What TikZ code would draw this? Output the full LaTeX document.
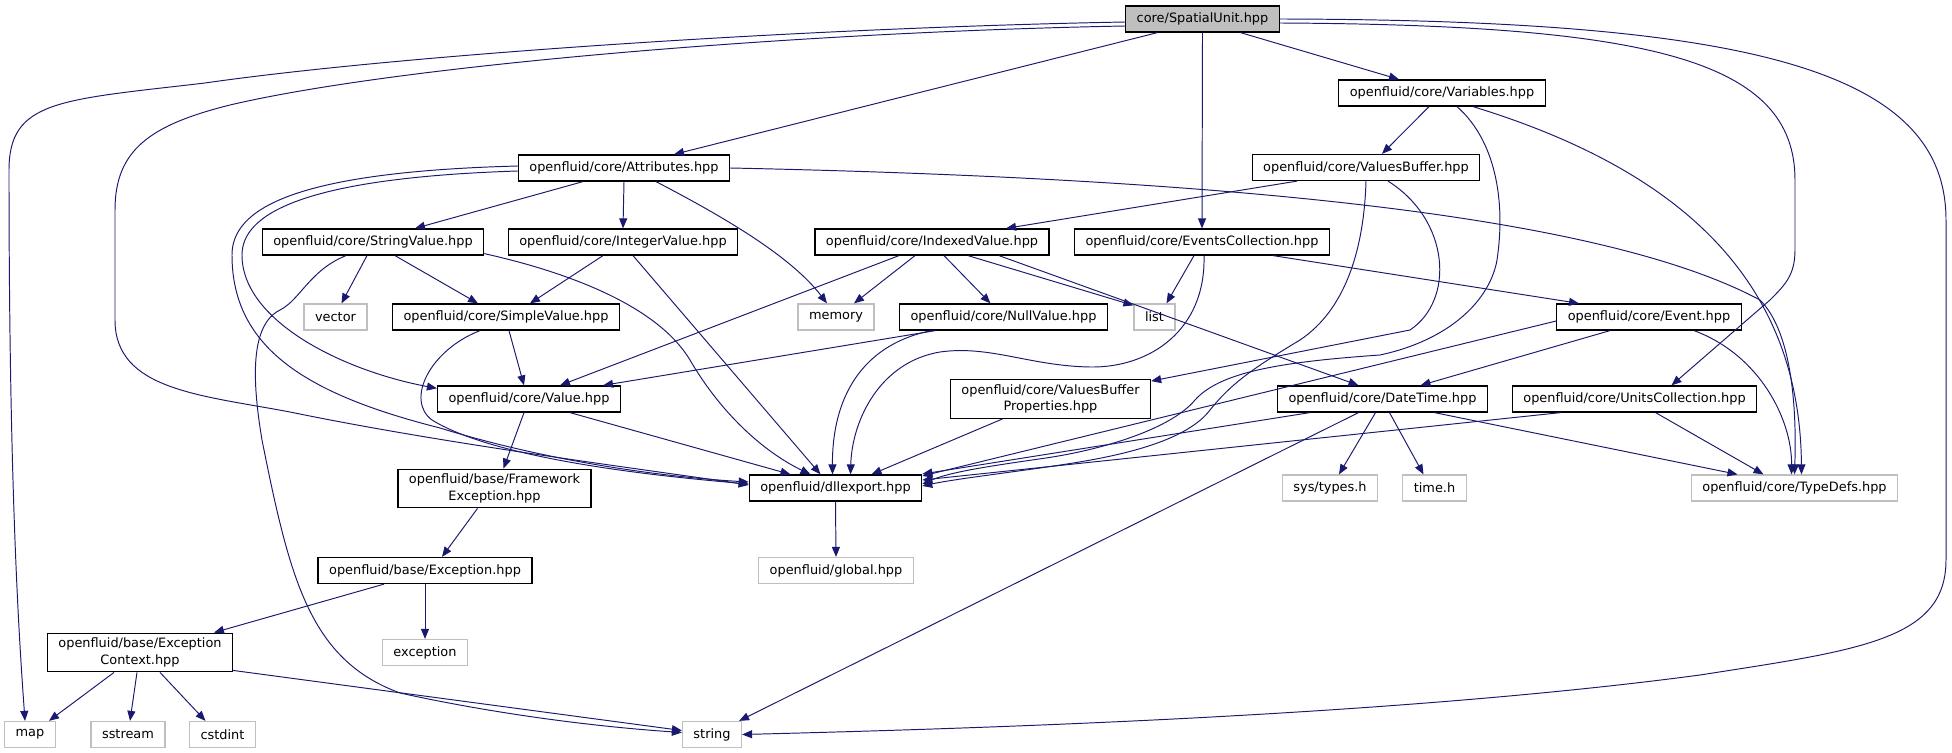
\documentclass[tikz,border=0pt]{standalone}
\usepackage{fontspec}
\setmainfont{DejaVu Sans}
\usetikzlibrary{arrows.meta, positioning, calc}
\definecolor{edgeblue}{HTML}{191970}
\definecolor{extgray}{HTML}{BFBFBF}

\begin{document}
\begin{tikzpicture}[
  x=0.02cm, y=-0.02cm,
  file/.style={rectangle, draw=black, line width=0.7pt, fill=white, minimum height=0.52cm, inner xsep=0.22cm, inner ysep=0.1cm, font=\fontsize{7.34}{9.2}\selectfont, align=center},
  sysfile/.style={file, draw=extgray},
  rootfile/.style={file, fill=extgray},
  arrow/.style={-{Triangle[length=2mm,width=1.6mm]}, draw=edgeblue, line width=0.55pt}
]
  \useasboundingbox (0,0) rectangle (1952,753);

  % Root
  \node[rootfile] (su) at (1202.5,19) {core/SpatialUnit.hpp};

  % Core headers
  \node[file] (vars) at (1442,93) {openfluid/core/Variables.hpp};
  \node[file] (attr) at (624,168) {openfluid/core/Attributes.hpp};
  \node[file] (vbuf) at (1366,167.5) {openfluid/core/ValuesBuffer.hpp};
  \node[file] (strv) at (373,242) {openfluid/core/StringValue.hpp};
  \node[file] (intv) at (623,242) {openfluid/core/IntegerValue.hpp};
  \node[file] (idxv) at (932,242) {openfluid/core/IndexedValue.hpp};
  \node[file] (evc) at (1202,242) {openfluid/core/EventsCollection.hpp};
  \node[sysfile] (vec) at (335.5,317) {vector};
  \node[file] (simv) at (506,317) {openfluid/core/SimpleValue.hpp};
  \node[sysfile] (memory) at (836,317) {memory};
  \node[file] (nullv) at (1003.5,317) {openfluid/core/NullValue.hpp};
  \node[sysfile] (list) at (1154.5,317) {list};
  \node[file] (event) at (1649,317) {openfluid/core/Event.hpp};
  \node[file] (value) at (529,399) {openfluid/core/Value.hpp};
  \node[file] (vbp) at (1050.5,399) {openfluid/core/ValuesBuffer\\Properties.hpp};
  \node[file] (dt) at (1382.5,399) {openfluid/core/DateTime.hpp};
  \node[file] (uc) at (1634.5,399) {openfluid/core/UnitsCollection.hpp};

  % Lower level
  \node[file] (fwex) at (494.5,488.5) {openfluid/base/Framework\\Exception.hpp};
  \node[file] (dll) at (835.5,488) {openfluid/dllexport.hpp};
  \node[sysfile] (systypes) at (1330,488) {sys/types.h};
  \node[sysfile] (timeh) at (1434.5,488) {time.h};
  \node[sysfile] (typedefs) at (1794.5,488) {openfluid/core/TypeDefs.hpp};
  \node[sysfile] (global) at (836,570.5) {openfluid/global.hpp};
  \node[file] (exc) at (425,570.5) {openfluid/base/Exception.hpp};
  \node[sysfile] (excstd) at (425,652.5) {exception};
  \node[file] (exctx) at (140,652.5) {openfluid/base/Exception\\Context.hpp};
  \node[sysfile] (map) at (30,734.5) {map};
  \node[sysfile] (sstream) at (128,734.5) {sstream};
  \node[sysfile] (cstdint) at (222.5,734.5) {cstdint};
  \node[sysfile] (string) at (712,734.5) {string};

  % SpatialUnit
  \draw[arrow] ($(su.south)+(-45,0)$) -- ($(attr.north)+(50,0)$);
  \draw[arrow] (su.south) -- (evc.north);
  \draw[arrow] ($(su.south)+(38,0)$) -- ($(vars.north)+(-43,0)$);
  \draw[arrow] ($(su.west)+(0,3)$) .. controls (800,28) and (400,55) .. (205,83) .. controls (60,100) and (9,100) .. (9,170) .. controls (9,500) and (20,650) .. ($(map.north)+(-5,0)$);
  \draw[arrow] ($(su.west)+(0,7)$) .. controls (800,32) and (400,65) .. (230,105) .. controls (150,125) and (115,150) .. (115,210) -- (115,320) .. controls (115,390) and (200,395) .. (290,412) .. controls (450,445) and (650,470) .. ($(dll.west)+(0,-3)$);
  \draw[arrow] ($(su.east)+(0,4)$) .. controls (1650,25) and (1795,60) .. (1795,180) -- (1795,250) .. controls (1795,275) and (1785,285) .. (1770,300) -- ($(uc.north)+(37,0)$);
  \draw[arrow] (su.east) .. controls (1750,20) and (1946,70) .. (1946,220) -- (1946,560) .. controls (1946,640) and (1860,650) .. (1700,675) .. controls (1400,715) and (1000,728) .. (string.east);

  % Attributes
  \draw[arrow] ($(attr.south)+(-41,0)$) -- ($(strv.north)+(42,0)$);
  \draw[arrow] (attr.south) -- (intv.north);
  \draw[arrow] ($(attr.south)+(32,0)$) .. controls (720,215) and (790,255) .. ($(memory.north)+(-9,0)$);
  \draw[arrow] (attr.east) .. controls (1300,180) and (1620,225) .. (1760,300) .. controls (1790,330) and (1797,400) .. (typedefs.north);
  \draw[arrow] ($(attr.west)+(0,3)$) .. controls (300,178) and (242,215) .. (242,255) .. controls (242,320) and (340,370) .. ($(value.north west)+(0,3)$);
  \draw[arrow] ($(attr.west)+(0,-2)$) .. controls (290,172) and (232,210) .. (232,255) .. controls (232,350) and (310,395) .. (440,428) .. controls (560,465) and (680,478) .. ($(dll.west)+(0,-6)$);

  % StringValue, IntegerValue, SimpleValue, Value
  \draw[arrow] ($(strv.south)+(-6,0)$) -- ($(vec.north)+(6,0)$);
  \draw[arrow] ($(strv.south)+(22,0)$) -- ($(simv.north)+(-28,0)$);
  \draw[arrow] ($(strv.south)+(-27,0)$) .. controls (310,270) and (300,300) .. (280,310) .. controls (250,325) and (252,380) .. (262,440) .. controls (290,580) and (310,660) .. (400,693) .. controls (500,715) and (600,727) .. ($(string.west)+(0,-2)$);
  \draw[arrow] ($(strv.south east)+(0,-2)$) .. controls (580,275) and (660,310) .. (690,360) .. controls (725,420) and (770,455) .. ($(dll.north)+(-25,0)$);
  \draw[arrow] ($(intv.south)+(-20,0)$) -- ($(simv.north)+(24,0)$);
  \draw[arrow] ($(intv.south)+(10,0)$) -- ($(dll.north)+(-15,0)$);
  \draw[arrow] ($(simv.south)+(3,0)$) -- ($(value.north)+(-5,0)$);
  \draw[arrow] ($(simv.south)+(-26,0)$) .. controls (430,350) and (405,400) .. (432,420) .. controls (500,462) and (680,478) .. ($(dll.west)+(0,-4)$);
  \draw[arrow] ($(value.south)+(-5,0)$) -- ($(fwex.north)+(9,0)$);
  \draw[arrow] ($(value.south)+(41,0)$) -- ($(dll.north)+(-45,0)$);

  % IndexedValue, NullValue
  \draw[arrow] ($(idxv.south)+(-33,0)$) -- ($(value.north)+(31,0)$);
  \draw[arrow] ($(idxv.south)+(-17,0)$) -- ($(memory.north)+(18,0)$);
  \draw[arrow] ($(idxv.south)+(12,0)$) -- ($(nullv.north)+(-13,0)$);
  \draw[arrow] ($(idxv.south)+(36,0)$) -- ($(list.north west)+(0,2)$);
  \draw[arrow] ($(idxv.south)+(67,0)$) -- ($(dt.north)+(-24,0)$);
  \draw[arrow] ($(nullv.south)+(-68,0)$) -- ($(value.north)+(74,0)$);
  \draw[arrow] ($(nullv.south)+(-72,0)$) .. controls (860,345) and (832,400) .. ($(dll.north)+(-3,0)$);

  % EventsCollection
  \draw[arrow] ($(evc.south)+(-8,0)$) -- ($(list.north)+(12,0)$);
  \draw[arrow] ($(evc.south)+(2,0)$) .. controls (1206,330) and (1150,368) .. (1090,367) .. controls (1030,366) and (990,345) .. (940,352) .. controls (880,362) and (852,420) .. ($(dll.north)+(15,0)$);
  \draw[arrow] ($(evc.south)+(71,0)$) -- ($(event.north)+(-70,0)$);

  % Variables, ValuesBuffer
  \draw[arrow] ($(vars.south)+(-13,0)$) -- ($(vbuf.north)+(16,0)$);
  \draw[arrow] ($(vars.south)+(15,0)$) .. controls (1495,140) and (1506,200) .. (1497,260) .. controls (1490,300) and (1450,340) .. (1380,355) .. controls (1280,362) and (1220,372) .. (1195,400) .. controls (1170,430) and (1100,450) .. (1046,458) .. controls (990,466) and (950,472) .. ($(dll.east)+(0,-4)$);
  \draw[arrow] ($(vars.south)+(31,0)$) .. controls (1680,170) and (1800,280) .. ($(typedefs.north)+(7,0)$);
  \draw[arrow] ($(vbuf.south)+(-69,0)$) -- ($(idxv.north)+(74,0)$);
  \draw[arrow] (vbuf.south) .. controls (1364,250) and (1345,310) .. (1300,340) .. controls (1250,370) and (1230,385) .. (1210,410) .. controls (1180,450) and (1080,462) .. (1040,468) .. controls (990,475) and (950,480) .. ($(dll.east)+(0,-2)$);
  \draw[arrow] ($(vbuf.south)+(22,0)$) .. controls (1450,220) and (1455,300) .. (1410,330) -- ($(vbp.north east)+(0,2)$);
  \draw[arrow] ($(vbp.south)+(-48,0)$) -- ($(dll.north)+(36,0)$);

  % Event, DateTime, UnitsCollection
  \draw[arrow] ($(event.south)+(-39,0)$) -- ($(dt.north)+(38,0)$);
  \draw[arrow] ($(event.south)+(45,0)$) .. controls (1760,355) and (1792,420) .. ($(typedefs.north)+(-3,0)$);
  \draw[arrow] ($(event.west)+(0,4)$) -- ($(dll.east)+(0,-12)$);
  \draw[arrow] ($(dt.south)+(-7,0)$) -- ($(systypes.north)+(9,0)$);
  \draw[arrow] ($(dt.south)+(7,0)$) -- ($(timeh.north)+(-11,0)$);
  \draw[arrow] ($(dt.south)+(52,0)$) -- ($(typedefs.north)+(-57,0)$);
  \draw[arrow] ($(dt.south)+(-24,0)$) -- ($(string.north east)+(-3,0)$);
  \draw[arrow] ($(dt.south west)+(33,0)$) -- ($(dll.east)+(0,-14)$);
  \draw[arrow] ($(uc.south)+(21,0)$) -- ($(typedefs.north)+(-31,0)$);
  \draw[arrow] ($(uc.south west)+(49,0)$) -- ($(dll.east)+(0,-8)$);

  % Exceptions
  \draw[arrow] (dll.south) -- (global.north);
  \draw[arrow] ($(fwex.south)+(-17,0)$) -- ($(exc.north)+(17,0)$);
  \draw[arrow] ($(exc.south)+(-41,0)$) -- ($(exctx.north)+(74,0)$);
  \draw[arrow] (exc.south) -- (excstd.north);
  \draw[arrow] ($(exctx.south)+(-26,0)$) -- ($(map.north)+(19,0)$);
  \draw[arrow] ($(exctx.south)+(-3,0)$) -- ($(sstream.north)+(2,0)$);
  \draw[arrow] ($(exctx.south)+(20,0)$) -- ($(cstdint.north)+(-17,0)$);
  \draw[arrow] ($(exctx.south east)+(0,-2)$) -- ($(string.west)+(0,-4)$);
\end{tikzpicture}
\end{document}
